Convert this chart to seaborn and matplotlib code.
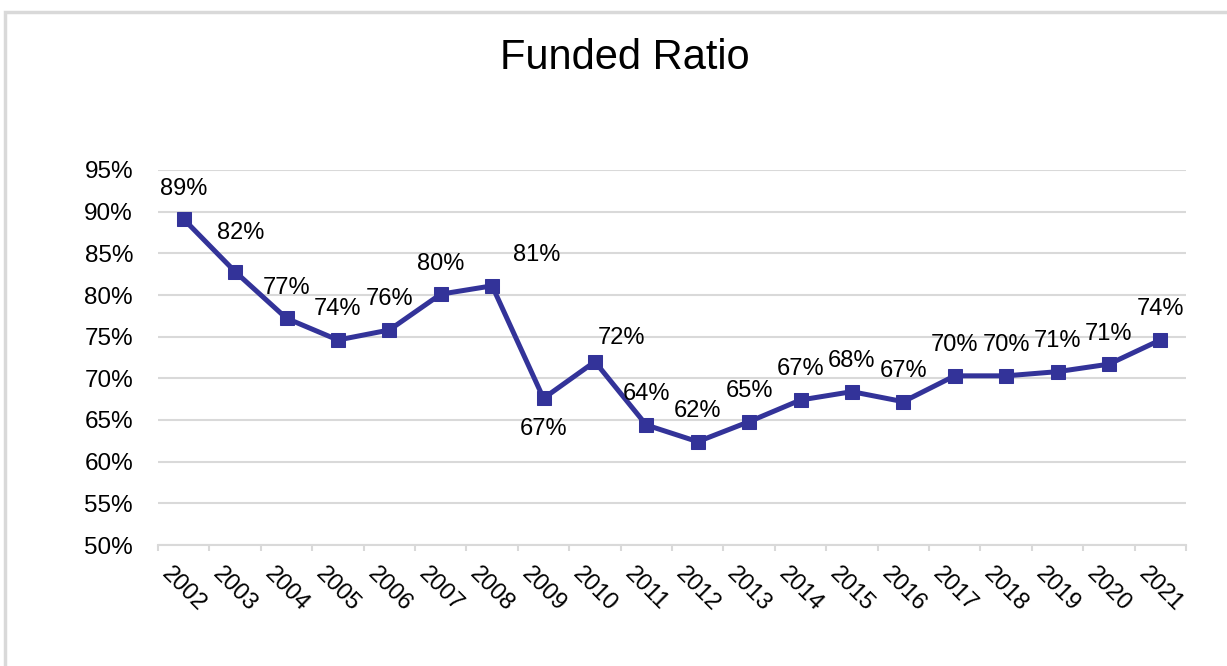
import numpy as np
import pandas as pd
import matplotlib
matplotlib.use("Agg")
import matplotlib.pyplot as plt
import seaborn as sns
from matplotlib.patches import Rectangle
from matplotlib.ticker import FixedLocator

# data
years = [str(y) for y in range(2002, 2022)]
funded_ratio = [89.1, 82.8, 77.2, 74.6, 75.8, 80.1, 81.1, 67.6, 72.0, 64.4,
                62.4, 64.8, 67.4, 68.4, 67.2, 70.3, 70.3, 70.8, 71.7, 74.6]
point_labels = ["89%", "82%", "77%", "74%", "76%", "80%", "81%", "67%", "72%", "64%",
                "62%", "65%", "67%", "68%", "67%", "70%", "70%", "71%", "71%", "74%"]
y_ticks = [50, 55, 60, 65, 70, 75, 80, 85, 90, 95]

# label offsets in points (most sit straight above the marker)
label_offsets = [(0, 22)] * len(years)
label_offsets[1] = (4, 28)
label_offsets[6] = (32, 22)
label_offsets[7] = (0, -22)
label_offsets[8] = (19, 17)

df = pd.DataFrame({"year": years, "ratio": funded_ratio})

sns.set_style("white")
plt.rcParams["font.family"] = ["Liberation Sans", "DejaVu Sans"]

line_color = "#333399"
grid_color = "#d9d9d9"

fig = plt.figure(figsize=(12.27, 6.66), dpi=100)
ax = fig.add_axes([158 / 1227, 1 - 545 / 666, 1028 / 1227, 375 / 666])

sns.lineplot(data=df, x="year", y="ratio", ax=ax, color=line_color, linewidth=3.6,
             marker="s", markersize=10.5, markeredgecolor=line_color, sort=False)

for i, (lab, off) in enumerate(zip(point_labels, label_offsets)):
    ax.annotate(lab, (i, funded_ratio[i]), xytext=off, textcoords="offset points",
                ha="center", va="center", fontsize=17, color="black")

ax.set_ylim(50, 95)
ax.set_xlim(-0.5, len(years) - 0.5)
ax.set_yticks(y_ticks)
ax.set_yticklabels([f"{t}%" for t in y_ticks])
ax.yaxis.grid(True, color=grid_color, linewidth=1.5)
ax.set_axisbelow(True)

ax.set_xticks(range(len(years)))
ax.set_xticklabels(years, rotation=-45, ha="center", rotation_mode="default")
ax.xaxis.set_minor_locator(FixedLocator(np.arange(-0.5, len(years), 1.0)))
ax.tick_params(axis="x", which="major", length=0, pad=13, labelsize=17, labelcolor="black")
ax.tick_params(axis="x", which="minor", length=4, width=1.5, color=grid_color, bottom=True)
ax.tick_params(axis="y", length=0, pad=18, labelsize=17.5, labelcolor="black")

for side in ["top", "right", "left"]:
    ax.spines[side].set_visible(False)
ax.spines["bottom"].set_color(grid_color)
ax.spines["bottom"].set_linewidth(1.5)

ax.set_xlabel("")
ax.set_ylabel("")

fig.text(625 / 1227, 1 - 58 / 666, "Funded Ratio", ha="center", va="center",
         fontsize=30, color="black")

# chart frame
fig.patches.append(Rectangle((5 / 1227, -0.05), 1.2, 1 - 12 / 666 + 0.05,
                             transform=fig.transFigure, fill=False,
                             edgecolor=grid_color, linewidth=2.5))

fig.savefig("out.png", dpi=100)
